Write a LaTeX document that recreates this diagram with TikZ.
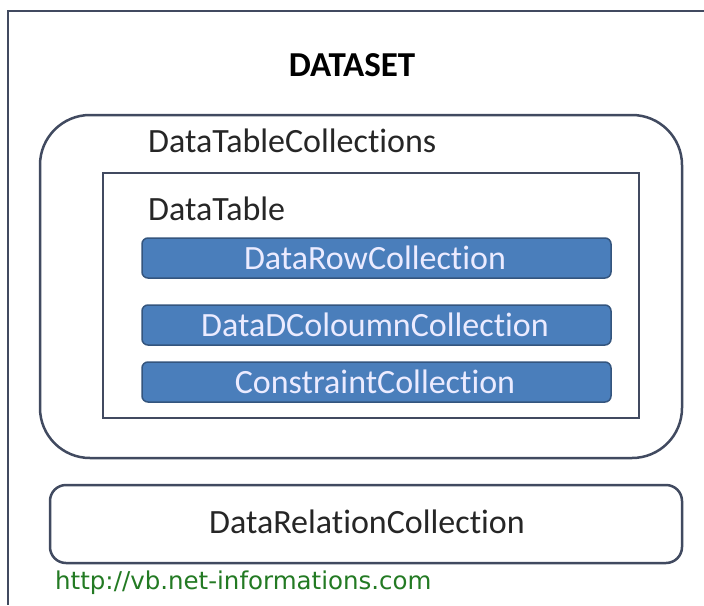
\documentclass[tikz,border=0pt]{standalone}
\usepackage{fontspec}
\setmainfont{Carlito}[Ligatures=CommonOff]
\newfontfamily\urlfont{DejaVu Sans}
\definecolor{frame}{HTML}{414A60}
\definecolor{boxfill}{HTML}{4A7EBB}
\definecolor{boxline}{HTML}{34557E}
\definecolor{urlgreen}{HTML}{237A23}
\begin{document}
\begin{tikzpicture}[x=1pt,y=-1pt,
  frameline/.style={draw=frame,line width=2.5pt},
  bluebox/.style={draw=boxline,line width=1.5pt,fill=boxfill,rounded corners=6pt},
  bluetext/.style={text=white!92!blue,font=\fontsize{34}{38}\selectfont},
  label/.style={anchor=west,inner sep=0pt,font=\fontsize{34}{38}\selectfont,text=black!85}]
\useasboundingbox (0,0) rectangle (704,605);
\fill[white] (0,0) rectangle (704,605);
% outer frame
\draw[frameline] (704,11) -- (8,11) -- (8,605);
\node[font=\bfseries\fontsize{35}{40}\selectfont] (ds) at (352,65) {DATASET};
% DataTableCollections
\draw[frameline,rounded corners=50pt] (40,115) rectangle (682,458);
\node[label] (dtc) at (148,141) {DataTableCollections};
% DataTable
\draw[frameline,line width=2.2pt] (103,173) rectangle (639,418);
\node[label] (dt) at (148,209) {DataTable};
% blue boxes
\draw[bluebox] (142,238) rectangle (611,278);
\node[bluetext] (r) at (375,258) {DataRowCollection};
\draw[bluebox] (142,305) rectangle (611,345);
\node[bluetext] (c) at (375,325) {DataDColoumnCollection};
\draw[bluebox] (142,362) rectangle (611,402);
\node[bluetext] (k) at (375,382) {ConstraintCollection};
% DataRelationCollection
\draw[frameline,rounded corners=16pt] (50,485) rectangle (682,563);
\node[font=\fontsize{34}{38}\selectfont,text=black!85] (rel) at (367,522) {DataRelationCollection};
% url
\node[anchor=west,inner sep=0pt,font=\urlfont\fontsize{24.5}{28}\selectfont,text=urlgreen] (url) at (55,583) {http://vb.net-informations.com};
\end{tikzpicture}
\end{document}
